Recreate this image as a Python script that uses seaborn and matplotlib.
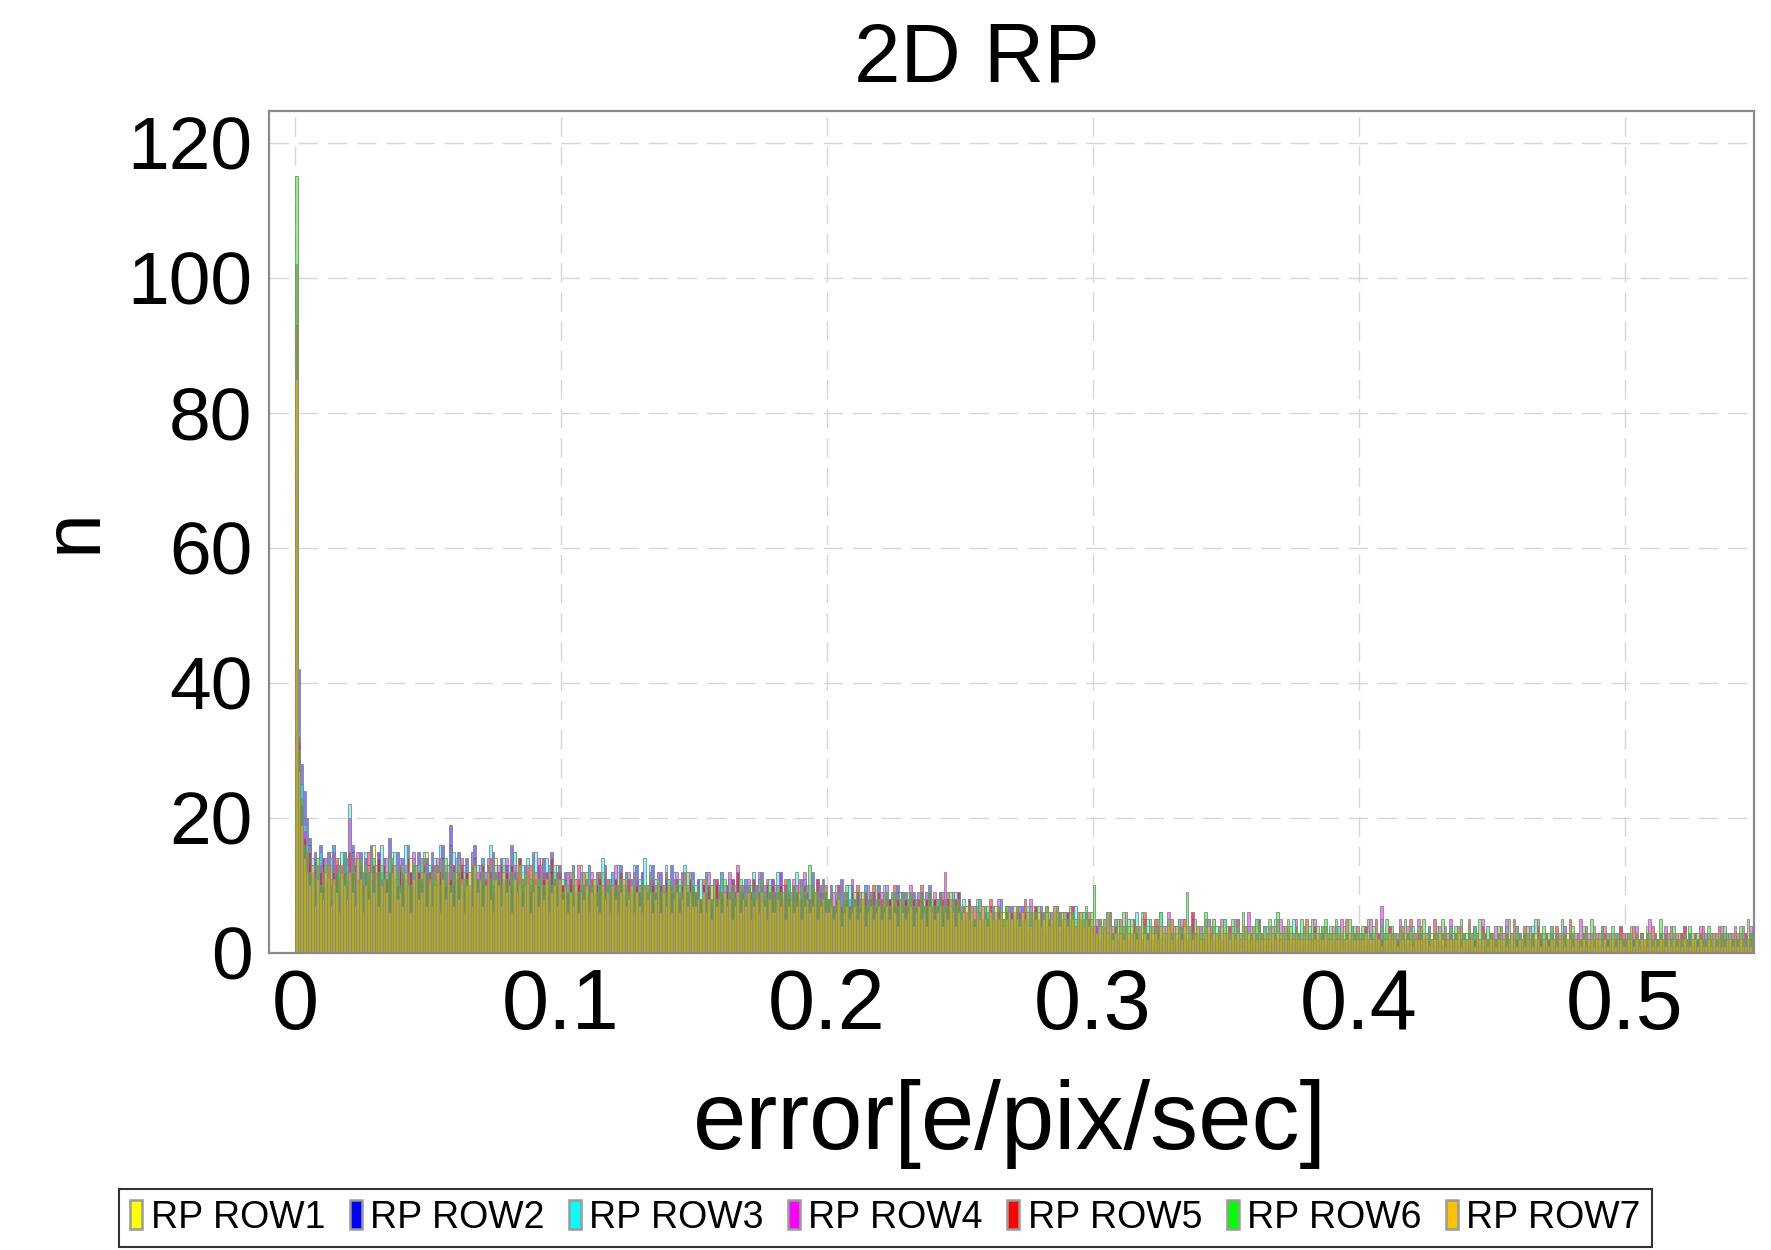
import numpy as np
import pandas as pd
import matplotlib
matplotlib.use("Agg")
import matplotlib.pyplot as plt
import seaborn as sns
from matplotlib.patches import Patch
from matplotlib import font_manager

# ---------------- data (counts per 0.001 bin, 550 bins from 0 to 0.55) ----------------
series_names = ["RP ROW1", "RP ROW2", "RP ROW3", "RP ROW4", "RP ROW5", "RP ROW6", "RP ROW7"]
series_colors = ["#ffff00", "#0000ff", "#00ffff", "#ff00ff", "#ff0000", "#00ff00", "#ffc000"]
x_ticks = [0, 0.1, 0.2, 0.3, 0.4, 0.5]
x_tick_labels = ["0", "0.1", "0.2", "0.3", "0.4", "0.5"]
y_ticks = [0, 20, 40, 60, 80, 100, 120]
bin_width = 0.001

row1 = [
 [83,29,21,15,13,16,9,12,14,10, 13,8,12,15,11,9,14,12,10,13, 11,15,9,12,14,10,8,13,11,16, 12,9,11,14,10,12,15,9,11,13, 10,12,8,14,11,13,9,12,10,15],
 [11,8,13,10,12,14,9,11,16,10, 12,9,13,11,8,12,10,14,9,11, 13,10,12,8,11,14,9,12,10,13, 9,11,15,10,8,12,11,13,9,10, 12,10,14,9,11,8,12,10,13,9],
 [9,11,7,10,12,8,9,13,10,8, 11,9,7,10,12,8,10,9,11,7, 9,12,8,10,9,11,7,9,10,8, 12,9,8,10,7,11,9,8,10,9, 7,10,9,11,8,9,7,10,8,9],
 [8,10,7,9,8,6,10,8,9,7, 11,8,7,9,8,10,6,9,8,7, 9,8,10,7,8,6,9,8,7,10, 8,7,9,6,8,9,7,8,10,7, 8,6,9,7,8,7,9,6,8,7],
 [7,8,6,9,7,5,8,7,6,8, 7,5,9,6,7,8,5,7,6,8, 6,7,5,8,6,7,9,5,6,7, 6,8,5,7,6,4,7,6,8,5, 6,7,5,6,8,5,6,7,4,6],
 [6,5,7,4,6,5,7,5,4,6, 5,7,4,6,5,3,6,5,7,4, 5,6,4,5,7,4,5,6,3,5, 4,6,5,3,5,4,6,4,5,3, 5,4,6,3,4,5,4,3,5,4],
 [4,3,5,2,4,6,3,4,2,5, 3,4,2,5,3,4,3,2,5,3, 4,2,3,5,3,2,4,3,5,2, 3,4,2,3,5,2,4,3,2,4, 3,2,4,3,2,5,3,2,4,3],
 [3,2,4,2,3,1,4,2,3,3, 2,4,1,3,2,3,2,4,2,1, 3,2,3,1,4,2,2,3,1,3, 2,3,2,1,3,2,4,1,2,3, 2,1,3,2,2,3,1,2,3,2],
 [2,3,1,2,3,1,2,2,3,1, 2,1,3,2,1,2,3,1,2,2, 1,3,2,1,2,2,1,3,1,2, 2,1,2,3,1,2,1,2,2,1, 3,1,2,1,2,2,1,2,1,3],
 [1,2,2,1,3,1,2,1,2,1, 2,1,1,3,1,2,1,2,1,1, 2,1,3,1,1,2,1,2,1,2, 1,1,2,1,3,1,1,2,1,1, 2,1,1,2,1,1,2,1,1,2],
 [1,2,1,1,2,1,3,1,1,2, 1,1,2,1,1,2,1,1,2,1, 1,3,1,1,2,1,1,1,2,1, 1,2,1,1,1,2,1,1,2,1, 1,1,2,1,1,2,1,1,1,2],
]
row2 = [
 [70,42,28,24,20,17,11,15,9,16, 14,10,15,8,16,12,13,9,15,14, 11,16,13,10,15,12,14,9,16,13, 10,15,12,14,11,17,9,13,15,12, 14,10,16,12,13,11,15,10,13,14],
 [12,15,10,13,11,16,12,9,19,13, 11,15,12,10,14,9,13,16,11,12, 14,10,13,12,15,9,12,14,11,13, 10,16,12,11,14,10,13,12,9,15, 11,13,10,14,12,11,15,10,12,13],
 [10,12,9,11,13,8,10,12,9,11, 13,8,10,12,11,9,13,10,8,12, 11,9,13,10,12,8,11,10,13,9, 12,10,8,11,13,9,10,12,8,11, 10,13,9,11,8,12,10,9,11,12],
 [9,11,8,10,12,9,7,11,10,8, 12,9,10,8,11,9,12,8,10,11, 9,7,11,10,8,12,9,10,8,11, 9,10,12,8,9,11,7,10,9,8, 11,9,10,8,12,9,8,10,11,9],
 [8,10,7,9,8,11,6,9,8,10, 7,9,8,6,10,8,9,7,8,10, 7,9,6,8,9,7,10,8,6,9, 8,7,9,8,6,9,7,8,10,6, 8,7,9,6,8,7,5,8,7,9],
 [6,7,5,8,6,4,7,6,5,7, 6,4,7,5,6,8,4,6,5,7, 5,6,4,7,5,3,6,5,7,4, 5,6,3,5,4,6,5,3,5,4, 6,3,5,4,3,5,4,6,3,4],
 [3,4,2,3,5,2,3,1,4,2, 3,2,4,1,3,2,3,4,2,1, 3,2,1,3,4,2,2,3,1,2, 3,1,2,4,2,1,3,2,2,3, 1,2,3,1,2,2,3,1,2,2],
 [2,1,3,2,1,2,3,1,2,1, 2,3,1,2,1,2,1,3,2,1, 2,1,2,3,1,1,2,2,1,3, 1,2,1,2,2,1,3,1,2,1, 2,1,1,3,2,1,2,1,2,1],
 [1,2,1,2,1,1,3,1,2,1, 1,2,1,1,2,1,2,1,1,2, 1,1,3,1,2,1,1,2,1,1, 2,1,1,2,1,1,2,1,1,1, 2,1,1,2,1,1,1,2,1,1],
 [1,1,2,1,1,1,2,1,1,2, 1,1,1,2,1,1,1,1,2,1, 1,2,1,1,1,1,2,1,1,1, 1,1,2,1,1,1,1,2,1,1, 1,1,1,2,1,1,1,1,2,1],
 [1,1,1,2,1,1,1,1,1,2, 1,1,1,1,2,1,1,1,1,1, 2,1,1,1,1,1,1,2,1,1, 1,1,1,1,1,2,1,1,1,1, 1,2,1,1,1,1,1,1,2,1],
]
row3 = [
 [75,33,25,19,16,12,14,10,13,15, 11,14,9,13,16,10,12,15,11,13, 22,12,10,14,13,9,15,12,11,14, 13,10,16,12,9,14,11,15,12,10, 13,16,11,12,14,10,13,11,15,12],
 [13,10,14,12,16,11,9,13,12,15, 10,14,11,13,9,12,15,10,13,11, 14,12,10,16,11,13,9,12,14,10, 13,11,15,12,10,13,11,14,9,12, 15,11,12,10,14,12,9,13,11,12],
 [11,9,12,10,13,11,8,12,10,9, 13,10,11,9,12,14,8,11,10,12, 9,13,10,8,12,11,9,13,10,11, 8,14,10,13,9,11,12,8,10,13, 11,9,12,10,8,11,13,9,10,11],
 [10,8,11,9,12,10,8,11,9,10, 12,8,10,11,9,8,12,10,9,11, 8,10,12,9,11,8,10,9,11,10, 8,12,9,10,8,11,9,10,12,8, 9,11,10,8,10,9,11,8,10,9],
 [8,9,7,10,8,6,9,8,10,7, 8,9,6,8,10,7,8,9,6,8, 7,10,8,6,9,7,8,9,7,6, 9,7,8,6,9,8,7,9,6,8, 7,8,6,9,7,8,6,7,9,7],
 [6,8,5,7,6,5,8,6,4,7, 6,5,7,6,4,8,5,6,7,5, 6,4,7,5,6,5,7,4,6,5, 7,5,6,4,5,7,5,4,6,5, 4,6,5,7,4,5,6,4,5,3],
 [4,2,5,3,4,2,6,3,3,5, 2,4,3,5,2,3,6,4,2,3, 5,3,2,4,3,6,2,4,3,2, 4,3,5,2,3,4,2,5,3,2, 4,2,3,5,2,3,4,2,3,5],
 [3,2,4,2,5,2,3,1,4,2, 3,5,2,3,1,4,2,3,5,2, 2,4,1,3,2,5,2,3,1,4, 2,3,2,4,1,3,2,4,2,3, 1,3,4,2,2,3,1,4,2,3],
 [2,3,1,4,2,2,3,1,5,2, 3,2,1,3,2,4,1,2,3,2, 4,1,2,3,1,2,4,2,1,3, 2,1,3,2,4,1,2,3,1,2, 3,2,1,4,2,1,3,2,1,2],
 [2,1,3,2,1,4,2,1,2,3, 1,2,3,1,2,4,1,2,1,3, 2,1,2,3,1,2,1,4,2,1, 3,1,2,1,2,3,1,2,1,2, 1,3,2,1,2,1,2,3,1,2],
 [1,2,3,1,2,1,2,1,3,2, 1,2,1,3,1,2,2,1,3,1, 2,1,2,1,3,2,1,2,1,2, 3,1,2,1,2,1,1,3,2,1, 2,1,2,3,1,2,1,2,1,3],
]
row4 = [
 [93,31,23,18,15,13,12,14,11,13, 10,14,12,11,15,13,9,12,14,11, 20,13,11,15,12,10,14,12,9,13, 12,15,11,10,14,12,13,9,12,14, 11,13,10,12,15,11,12,14,10,12],
 [11,13,10,14,12,9,13,11,12,10, 14,11,13,9,12,10,15,11,12,13, 10,12,14,11,9,12,13,10,11,14, 12,10,13,11,12,9,11,13,10,12, 11,14,10,12,11,13,9,11,12,10],
 [10,9,12,10,8,11,13,9,10,11, 9,12,10,8,11,10,12,9,11,10, 13,9,10,11,8,12,10,9,11,10, 12,9,10,8,11,10,12,9,10,11, 9,10,8,12,10,11,9,10,12,9],
 [9,11,8,10,9,12,8,10,11,9, 8,10,9,12,8,10,13,9,8,10, 11,9,8,10,12,9,10,8,9,11, 10,8,12,9,10,8,9,11,10,8, 9,12,8,10,9,8,11,9,10,8],
 [8,7,9,8,10,7,8,9,7,11, 8,7,9,8,7,10,8,9,7,8, 9,7,10,8,7,9,8,6,9,8, 7,10,8,7,9,8,6,9,8,7, 9,8,7,9,12,8,7,9,8,7],
 [5,7,6,4,7,5,6,8,5,6, 4,7,5,6,8,5,4,6,7,5, 6,4,7,5,6,5,8,4,6,5, 7,5,4,6,5,7,4,6,5,6, 4,5,7,4,6,5,4,6,5,4],
 [3,5,2,4,3,6,2,4,5,3, 2,4,6,3,2,5,3,4,2,5, 3,2,4,3,5,2,4,3,6,3, 2,4,3,5,3,2,4,6,3,2, 4,3,2,5,3,4,2,3,5,3],
 [2,4,3,5,2,3,4,2,6,3, 2,3,5,2,4,3,2,4,3,2, 5,3,2,4,2,3,5,2,3,4, 2,3,2,5,3,2,4,3,2,3, 4,2,3,5,2,3,2,4,3,2],
 [3,2,4,2,5,3,2,3,7,2, 3,4,2,3,2,5,3,2,4,2, 3,2,5,3,2,3,4,2,3,2, 4,3,2,3,5,2,3,2,4,3, 2,3,2,4,3,2,5,3,2,3],
 [2,4,3,2,3,5,2,3,2,4, 3,2,3,2,4,3,2,5,3,2, 3,2,4,2,3,2,3,4,2,3, 2,3,2,5,3,2,3,2,4,2, 3,2,4,3,2,3,2,3,4,2],
 [3,2,3,2,4,2,3,2,3,5, 2,3,2,3,2,4,3,2,3,2, 2,3,4,2,3,2,3,2,4,2, 3,2,3,2,3,2,4,3,2,3, 2,4,2,3,2,3,2,4,3,2],
]
row5 = [
 [102,32,22,17,14,15,12,10,13,12, 14,11,13,10,12,14,11,13,12,10, 15,12,14,11,13,10,12,15,11,13, 12,14,10,13,11,12,14,11,10,13, 12,11,14,12,10,13,12,11,14,12],
 [12,10,13,11,14,12,10,12,11,13, 10,12,14,11,12,10,13,12,11,10, 13,11,12,14,10,12,11,13,10,12, 11,13,10,12,14,11,10,12,13,11, 12,10,13,11,12,10,14,11,10,12],
 [10,11,9,12,10,9,11,10,12,9, 10,11,9,10,12,10,9,11,10,9, 11,10,12,9,10,11,9,12,10,9, 11,10,9,12,10,9,11,10,9,12, 10,9,11,10,9,10,12,9,11,10],
 [9,10,8,11,9,10,8,9,11,10, 9,8,10,9,11,8,12,10,9,8, 10,9,11,8,9,10,8,11,9,10, 8,9,10,8,11,9,8,10,9,11, 8,10,9,8,10,9,11,8,9,10],
 [8,9,7,8,10,7,9,8,7,9, 8,10,7,8,9,7,8,10,7,9, 8,7,9,8,7,10,8,7,9,8, 7,9,8,7,8,10,7,8,9,7, 8,7,9,8,7,9,8,7,8,9],
 [7,5,6,8,5,7,6,4,7,6, 5,8,6,5,7,6,5,7,4,6, 5,7,6,5,8,6,4,6,7,5, 6,4,7,5,6,5,7,6,4,5, 6,5,7,4,5,6,5,4,6,5],
 [4,3,5,2,4,3,6,3,4,2, 5,3,4,2,3,5,4,3,2,6, 3,4,2,5,3,4,3,2,4,5, 3,2,4,3,5,2,3,6,3,4, 2,3,5,3,4,2,3,4,2,3],
 [3,4,2,3,5,2,3,4,2,3, 4,2,5,3,2,3,4,2,3,5, 2,3,4,2,3,2,4,3,2,3, 5,2,3,4,2,3,2,4,3,2, 3,4,2,3,2,5,3,2,3,4],
 [2,3,4,2,3,2,5,3,2,3, 2,4,3,2,3,2,4,2,3,5, 2,3,2,4,3,2,3,2,5,3, 2,3,4,2,3,2,3,4,2,3, 2,5,3,2,3,2,4,3,2,3],
 [3,2,3,4,2,3,2,3,5,2, 3,2,4,3,2,3,2,4,3,2, 3,2,3,2,4,3,2,3,2,5, 3,2,3,2,3,4,2,3,2,3, 2,4,3,2,3,2,3,2,4,3],
 [2,3,2,4,3,2,3,2,3,2, 4,3,2,3,2,3,2,4,2,3, 2,3,4,2,3,2,3,2,3,4, 2,3,2,3,2,4,3,2,3,2, 3,2,3,2,4,3,2,3,2,4],
]
row6 = [
 [115,30,23,16,15,12,13,11,14,10, 12,13,11,14,10,12,13,11,15,12, 11,13,12,10,14,11,13,12,10,14, 11,12,13,10,12,14,11,13,12,10, 13,11,12,10,13,12,11,14,10,12],
 [10,12,11,13,10,12,14,11,10,12, 11,13,10,12,11,10,13,12,11,10, 12,10,13,11,10,12,11,10,13,11, 10,12,11,13,10,11,12,10,11,13, 10,11,12,10,11,13,10,12,11,10],
 [9,11,10,9,12,10,9,11,10,12, 9,10,11,9,10,12,9,10,11,9, 10,9,11,10,12,9,10,11,9,10, 11,9,10,12,9,10,11,9,10,9, 11,10,9,10,11,9,10,12,9,10],
 [9,10,8,9,11,8,10,9,8,10, 9,11,8,9,10,8,9,11,8,9, 10,8,9,10,8,11,9,8,10,9, 8,10,9,8,9,11,8,10,9,8, 10,9,8,13,10,8,9,8,10,9],
 [8,9,7,8,9,7,8,10,7,8, 9,7,8,9,7,8,9,7,10,8, 7,8,9,7,8,9,7,8,9,7, 8,9,7,8,7,9,8,7,9,8, 7,8,9,7,8,7,9,8,7,8],
 [6,7,5,6,7,5,6,8,5,6, 7,5,6,5,7,6,5,7,6,5, 6,7,5,6,5,7,6,5,6,7, 5,6,7,5,6,5,7,6,5,6, 5,7,6,5,6,5,6,7,5,6],
 [10,3,5,4,3,6,4,3,5,3, 4,6,3,4,5,3,4,3,6,4, 3,5,4,3,4,6,3,4,5,3, 4,3,5,4,3,9,4,3,5,4, 3,4,6,3,4,5,3,4,3,5],
 [4,3,5,3,4,3,6,4,3,4, 3,5,4,3,4,3,5,3,4,6, 3,4,3,5,4,3,4,3,5,4, 3,4,5,3,4,3,4,5,3,4, 3,5,4,3,4,3,5,3,4,3],
 [3,4,3,5,3,4,3,2,4,3, 5,3,4,3,2,4,3,5,3,4, 3,2,4,3,5,3,4,2,3,4, 3,5,3,2,4,3,4,3,5,3, 2,4,3,4,3,5,3,2,4,3],
 [3,2,4,3,2,3,5,3,2,4, 3,2,3,4,2,3,5,2,3,4, 2,3,4,2,3,2,5,3,2,3, 4,2,3,2,4,3,2,5,3,2, 3,4,2,3,2,4,3,2,3,2],
 [2,3,4,2,3,2,3,2,4,3, 2,3,2,5,3,2,3,2,4,2, 3,2,3,2,4,3,2,3,2,3, 2,4,3,2,3,2,3,4,2,3, 2,3,2,4,3,2,5,3,2,3],
]
row7 = [
 [85,27,19,14,12,10,13,7,11,9, 8,12,13,7,11,9,6,12,10,8, 12,9,7,14,11,6,10,8,12,9, 13,7,10,11,9,6,12,13,8,9, 7,12,10,6,11,13,8,9,12,7],
 [11,7,10,12,6,11,8,13,9,7, 12,8,11,6,10,12,7,13,9,11, 7,10,12,8,6,11,10,7,12,9, 10,6,11,9,13,7,10,12,6,9, 12,7,10,8,11,6,9,10,7,11],
 [8,10,6,9,7,11,6,9,8,10, 6,9,11,7,6,10,8,9,6,10, 8,6,9,11,7,8,10,6,9,7, 6,10,8,9,6,8,11,6,9,7, 10,6,8,9,6,8,10,7,9,7],
 [7,8,6,9,6,8,5,10,7,8, 6,9,7,8,5,7,9,6,8,7, 9,5,7,8,6,9,7,5,8,6, 6,8,7,9,5,7,8,6,7,9, 5,7,8,6,7,9,5,7,8,6],
 [6,7,5,6,8,4,6,7,5,6, 7,5,6,8,4,6,7,5,6,7, 5,6,7,5,8,6,4,7,6,5, 6,7,4,6,7,5,6,4,7,6, 5,6,7,4,6,5,7,6,4,6],
 [5,6,7,5,6,4,6,5,7,5, 4,6,5,7,5,6,4,5,6,5, 7,5,4,6,5,6,4,7,5,6, 4,5,6,4,5,7,5,4,6,5, 4,6,5,4,5,6,4,5,4,5],
 [4,3,4,3,5,3,4,2,3,4, 3,2,4,3,4,3,2,4,3,3, 2,4,3,3,2,4,3,3,4,2, 3,4,3,2,4,3,3,2,3,4, 2,3,3,4,2,3,3,2,4,3],
 [3,2,3,2,3,2,4,2,3,2, 3,2,3,2,2,3,2,3,2,3, 2,3,2,2,3,2,3,2,2,3, 2,2,3,2,3,2,2,3,2,2, 3,2,2,3,2,2,3,2,2,2],
 [2,2,3,2,2,2,3,2,1,2, 2,3,2,2,1,2,2,3,2,2, 1,2,2,2,3,2,1,2,2,2, 3,2,1,2,2,2,2,3,1,2, 2,2,2,1,3,2,2,2,1,2],
 [2,1,2,2,2,1,2,3,2,1, 2,2,1,2,2,1,3,2,1,2, 2,1,2,2,1,2,2,1,3,2, 1,2,2,1,2,1,2,2,1,2, 2,1,2,1,2,2,1,2,2,1],
 [1,2,2,1,2,1,2,2,1,2, 1,2,1,2,2,1,2,1,2,1, 2,1,2,1,1,2,2,1,2,1, 1,2,1,2,1,2,1,1,2,2, 1,2,1,2,1,1,2,1,2,1],
]
all_rows = [row1, row2, row3, row4, row5, row6, row7]

bad = [(si + 1, ci, len(c)) for si, r in enumerate(all_rows) for ci, c in enumerate(r) if len(c) != 50]
assert not bad, f"bad chunks: {bad}"

# ---------------- build tidy table ----------------
n_bins = 550
centers = (np.arange(n_bins) + 0.5) * bin_width
frames = []
for name, r in zip(series_names, all_rows):
    counts = [v for chunk in r for v in chunk]
    frames.append(pd.DataFrame({"error": centers, "n": counts, "series": name}))
df = pd.concat(frames, ignore_index=True)

# ---------------- figure ----------------
sns.set_style("white")
plt.rcParams["font.family"] = ["Liberation Sans", "DejaVu Sans"]
for k in ["text.color", "axes.labelcolor", "xtick.color", "ytick.color",
          "xtick.labelcolor", "ytick.labelcolor"]:
    plt.rcParams[k] = "black"

fig = plt.figure(figsize=(17.71, 12.5), dpi=100)
ax = fig.add_axes([0.1519, 0.2376, 0.8385, 0.6736])

for name, col in zip(series_names, series_colors):
    sub = df[df["series"] == name]
    sns.histplot(data=sub, x="error", weights="n", binwidth=bin_width,
                 binrange=(0, n_bins * bin_width), color=col,
                 alpha=0.5, edgecolor="#888888", linewidth=0.6, ax=ax, zorder=2)

ax.set_xlim(-0.0098, 0.5487)
ax.set_ylim(0, 124.7)
ax.set_xticks(x_ticks)
ax.set_xticklabels(x_tick_labels)
ax.set_yticks(y_ticks)
ax.tick_params(axis="x", direction="out", length=7, width=1.6, color="black",
               labelcolor="black", labelsize=61, pad=3)
ax.tick_params(axis="y", direction="out", length=7, width=1.6, color="black",
               labelcolor="black", labelsize=54, pad=5)
ax.grid(True, color="#d6d6d6", linestyle=(0, (14, 7)), linewidth=1.0, zorder=0)
ax.set_axisbelow(True)
for sp in ax.spines.values():
    sp.set_color("#8a8a8a")
    sp.set_linewidth(1.6)
ax.set_xlabel("")
ax.set_ylabel("")

fig.text(977 / 1771, 1 - 82 / 1250, "2D RP", ha="center", va="baseline",
         fontsize=60, color="black")
fig.text(1010 / 1771, 1 - 1149 / 1250, "error[e/pix/sec]", ha="center", va="baseline",
         fontsize=69, color="black")
fig.text(75 / 1771, 1 - 531 / 1250, "n", ha="center", va="center", rotation=90,
         fontsize=58, color="black")

# legend
narrow = None
for f in font_manager.fontManager.ttflist:
    if f.name == "Liberation Sans Narrow":
        narrow = f.name
        break
leg_font = {"family": narrow, "size": 31} if narrow else {"family": "Liberation Sans", "size": 27}
handles = [Patch(facecolor=c, edgecolor="#9a9a9a", linewidth=1.8) for c in series_colors]
leg = fig.legend(handles, series_names, loc="lower left",
                 bbox_to_anchor=(0.0672, 0.0024, 0.8656, 0.0504), mode="expand",
                 ncol=7, prop=leg_font, frameon=True, fancybox=False,
                 handlelength=0.32, handleheight=0.8, handletextpad=0.22,
                 columnspacing=0.4, borderaxespad=0.0, borderpad=0.3)
leg.get_frame().set_edgecolor("black")
leg.get_frame().set_linewidth(1.5)
for t in leg.get_texts():
    t.set_color("black")

fig.savefig("out.png", dpi=100)
